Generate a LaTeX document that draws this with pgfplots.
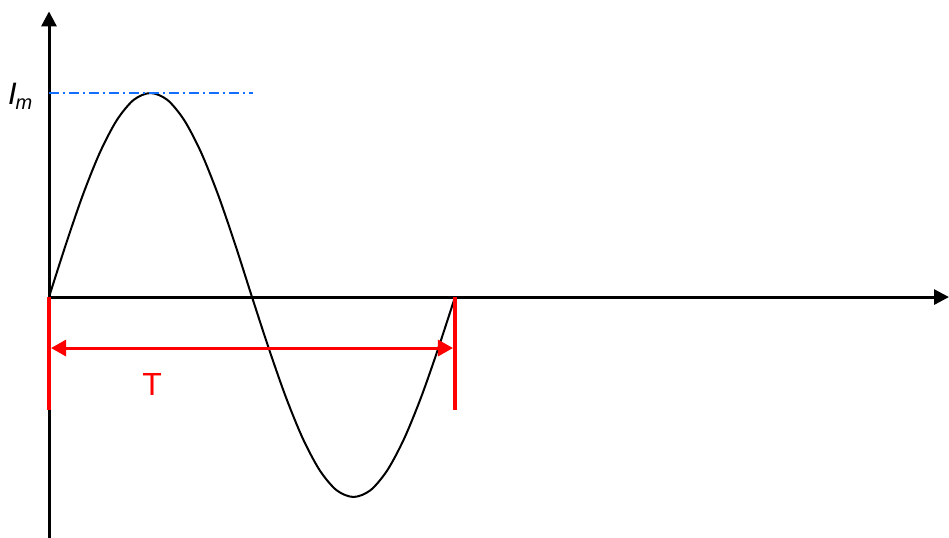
\documentclass[border=0pt]{standalone}
\usepackage{pgfplots}
\pgfplotsset{compat=1.18}
\usepackage{fontspec}
\setmainfont{Liberation Sans}
\usetikzlibrary{arrows.meta}
\definecolor{imblue}{RGB}{20,110,255}
\definecolor{tred}{RGB}{255,0,0}
\begin{document}
\begin{tikzpicture}
\begin{axis}[width=949pt,height=538pt,scale only axis,axis lines=none,clip=false,
  xmin=-0.1207,xmax=2.2167,ymin=-1.181,ymax=1.456,ticks=none]
% axes
\draw[line width=3pt,-{Triangle[length=15pt,width=15pt]}] (axis cs:0,-1.181) -- (axis cs:0,1.40);
\draw[line width=3pt,-{Triangle[length=15pt,width=15pt]}] (axis cs:0,0) -- (axis cs:2.2167,0);
% one period of the current
\addplot[black,line width=2pt,smooth] coordinates {
(0,0)(0.0417,0.259)(0.0833,0.5)(0.125,0.707)(0.1667,0.866)(0.2083,0.966)(0.25,1)
(0.2917,0.966)(0.3333,0.866)(0.375,0.707)(0.4167,0.5)(0.4583,0.259)(0.5,0)
(0.5417,-0.254)(0.5833,-0.49)(0.625,-0.693)(0.6667,-0.849)(0.7083,-0.947)(0.75,-0.98)
(0.7917,-0.947)(0.8333,-0.849)(0.875,-0.693)(0.9167,-0.49)(0.9583,-0.254)(1,0)};
% peak level
\addplot[imblue,line width=1.6pt,dash pattern=on 10pt off 4pt on 2pt off 4pt] coordinates {(0,1)(0.502,1)};
\node at (axis cs:-0.071,0.985) {\fontsize{31}{31}\selectfont\itshape I\kern-1pt\raisebox{-5pt}{\fontsize{20}{20}\selectfont m}};
% period marker
\addplot[tred,line width=4.5pt] coordinates {(0,0)(0,-0.554)};
\addplot[tred,line width=4.5pt] coordinates {(1,0)(1,-0.554)};
\draw[tred,line width=3pt,{Triangle[length=15pt,width=16pt]}-{Triangle[length=15pt,width=16pt]}] (axis cs:0.005,-0.25) -- (axis cs:0.995,-0.25);
\node[tred] at (axis cs:0.254,-0.43) {\fontsize{32}{32}\selectfont T};
\end{axis}
\pgfresetboundingbox
\path[use as bounding box] (current axis.south west) rectangle (current axis.north east);
\end{tikzpicture}
\end{document}
